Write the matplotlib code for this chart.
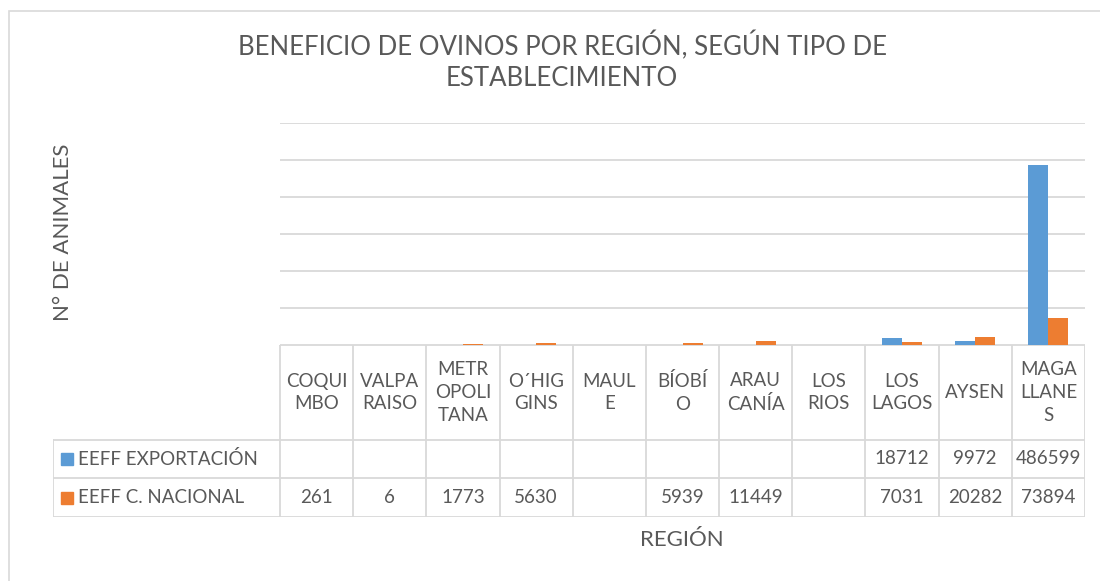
import numpy as np
import matplotlib
matplotlib.use('Agg')
import matplotlib.pyplot as plt
from matplotlib.patches import Rectangle

regiones = ["COQUI\nMBO", "VALPA\nRAISO", "METR\nOPOLI\nTANA", "O´HIG\nGINS", "MAUL\nE",
            "BÍOBÍ\nO", "ARAU\nCANÍA", "LOS\nRIOS", "LOS\nLAGOS", "AYSEN", "MAGA\nLLANE\nS"]
exportacion = [np.nan, np.nan, np.nan, np.nan, np.nan, np.nan, np.nan, np.nan, 18712, 9972, 486599]
nacional = [261, 6, 1773, 5630, np.nan, 5939, 11449, np.nan, 7031, 20282, 73894]
series_names = ["EEFF EXPORTACIÓN", "EEFF C. NACIONAL"]
colors = ["#5b9bd5", "#ed7d31"]

W, H = 1100, 581
txt = "#595959"
grid = "#d9d9d9"
font = "Lato"

fig = plt.figure(figsize=(W / 100, H / 100), dpi=100)

# chart frame (only left and top edges visible)
fig.patches.append(Rectangle((9 / W, -0.1), 1.2, (H - 11) / H + 0.1, transform=fig.transFigure,
                             fill=False, edgecolor=grid, lw=1.2))

# plot area
x0, x1, ytop, ybase, ybot = 280, 1085, 123, 345, 517
ax = fig.add_axes([x0 / W, (H - ybase) / H, (x1 - x0) / W, (ybase - ytop) / H])
n = len(regiones)
x = np.arange(n)
bw = 0.274
ax.bar(x - bw / 2, np.nan_to_num(exportacion), bw, color=colors[0], zorder=3)
ax.bar(x + bw / 2, np.nan_to_num(nacional), bw, color=colors[1], zorder=3)
ax.set_xlim(-0.5, n - 0.5)
ax.set_ylim(0, 600000)
ax.set_yticks(np.arange(0, 600001, 100000))
ax.yaxis.grid(True, color=grid, lw=1.3)
ax.set_axisbelow(True)
ax.tick_params(left=False, labelleft=False, bottom=False, labelbottom=False)
for s in ax.spines.values():
    s.set_visible(False)

# data table
cw = (x1 - x0) / n
tleft = 53
xl = -0.5 - (x0 - tleft) / cw
tax = fig.add_axes([tleft / W, (H - ybot) / H, (x1 - tleft) / W, (ybot - ybase) / H])
tax.set_xlim(xl, n - 0.5)
tax.set_ylim(ybot - ybase, 0)
tax.axis('off')
r1, r2, r3 = 95, 133, 172
lk = dict(color=grid, lw=1.3)
tax.plot([-0.5, n - 0.5], [0, 0], **lk)
for yy in (r1, r2, r3):
    tax.plot([xl, n - 0.5], [yy, yy], **lk)
tax.plot([xl, xl], [r1, r3], **lk)
for k in range(n + 1):
    tax.plot([k - 0.5, k - 0.5], [0, r3], **lk)

fs = 13.5
for i, lab in enumerate(regiones):
    tax.text(i, r1 / 2, lab, ha='center', va='center', fontsize=fs, color=txt,
             family=font, linespacing=1.4)

for row, (vals, name, c) in enumerate(zip([exportacion, nacional], series_names, colors)):
    yc = (r1 + r2) / 2 if row == 0 else (r2 + r3) / 2
    tax.add_patch(Rectangle((xl + 8 / cw, yc - 6), 12 / cw, 12, color=c))
    tax.text(xl + 25 / cw, yc, name, ha='left', va='center', fontsize=fs, color=txt, family=font)
    for i, v in enumerate(vals):
        if not np.isnan(v):
            tax.text(i, yc, str(int(v)), ha='center', va='center', fontsize=fs,
                     color=txt, family=font)

# titles
fig.text(562 / W, 1 - 61 / H, "BENEFICIO DE OVINOS POR REGIÓN, SEGÚN TIPO DE\nESTABLECIMIENTO",
         ha='center', va='center', fontsize=18.5, color=txt, family=font,
         linespacing=1.25)
fig.text(63 / W, 1 - 232 / H, "N° DE ANIMALES", rotation=90, ha='center', va='center',
         fontsize=16, color=txt, family=font)
fig.text(682 / W, 1 - 540 / H, "REGIÓN", ha='center', va='center', fontsize=16,
         color=txt, family=font)

fig.savefig('out.png', dpi=100, facecolor='white')
